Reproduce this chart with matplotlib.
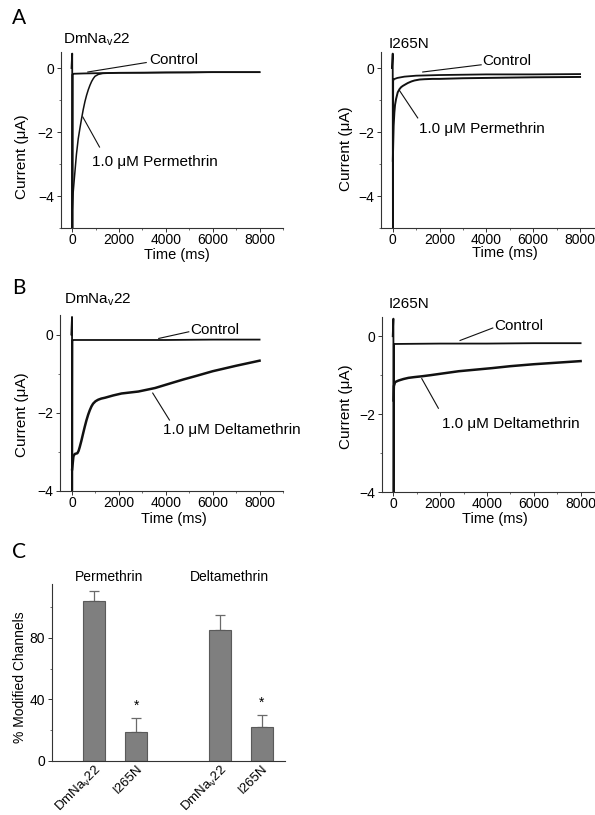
import matplotlib
matplotlib.use("Agg")
import matplotlib.pyplot as plt
from matplotlib.ticker import MultipleLocator

plt.rcParams['font.family'] = ['Liberation Sans', 'DejaVu Sans']
plt.rcParams['mathtext.fontset'] = 'custom'
plt.rcParams['mathtext.rm'] = 'Liberation Sans'
plt.rcParams['mathtext.it'] = 'Liberation Sans:italic'

# ---------------- data ----------------
# Panel A, DmNav22
a1_ctrl_t = [-30, 0, 8, 20, 60, 500, 2000, 4000, 6000, 8000]
a1_ctrl_v = [0, 0.45, -5.0, -0.2, -0.18, -0.17, -0.15, -0.14, -0.13, -0.13]
a1_drug_t = [5, 40, 80, 114, 180, 257, 330, 400, 470, 543, 614, 686, 757, 829, 900,
             971, 1114, 1300, 1600, 2000, 3000, 4000, 5000, 6000, 7000, 8000]
a1_drug_v = [-4.4, -3.9, -3.55, -3.26, -2.7, -2.21, -1.88, -1.58, -1.3, -1.05, -0.85,
             -0.68, -0.54, -0.42, -0.33, -0.26, -0.2, -0.17, -0.16, -0.15, -0.15,
             -0.14, -0.14, -0.13, -0.13, -0.13]
# Panel A, I265N
a2_ctrl_t = [-30, 0, 8, 20, 50, 200, 500, 1000, 2000, 4000, 6000, 8000]
a2_ctrl_v = [0, 0.45, -5.0, -0.4, -0.35, -0.31, -0.27, -0.24, -0.22, -0.2, -0.2, -0.19]
a2_drug_t = [5, 20, 40, 71, 100, 143, 214, 290, 357, 430, 500, 643, 800, 929, 1150,
             1357, 1700, 2000, 3000, 4000, 5000, 6000, 7000, 8000]
a2_drug_v = [-2.9, -2.4, -1.8, -1.39, -1.15, -0.97, -0.76, -0.66, -0.6, -0.56, -0.53,
             -0.47, -0.42, -0.39, -0.36, -0.35, -0.34, -0.34, -0.32, -0.31, -0.3,
             -0.29, -0.285, -0.28]
# Panel B, DmNav22
b1_ctrl_t = [-30, 0, 8, 20, 60, 2000, 4000, 6000, 8000]
b1_ctrl_v = [0, 0.45, -4.0, -0.15, -0.14, -0.14, -0.14, -0.13, -0.13]
b1_drug_t = [5, 30, 60, 114, 170, 229, 280, 330, 400, 471, 540, 614, 690, 757, 830,
             900, 1000, 1114, 1250, 1400, 1757, 2114, 2829, 3543, 4257, 4757, 5300,
             6000, 7000, 8000]
b1_drug_v = [-3.45, -3.3, -3.12, -3.06, -3.05, -3.04, -2.98, -2.88, -2.72, -2.54,
             -2.37, -2.2, -2.05, -1.94, -1.84, -1.77, -1.71, -1.67, -1.64, -1.62,
             -1.56, -1.51, -1.46, -1.37, -1.24, -1.15, -1.06, -0.94, -0.8, -0.67]
# Panel B, I265N
b2_ctrl_t = [-30, 0, 8, 20, 60, 2000, 4000, 6000, 8000]
b2_ctrl_v = [0, 0.45, -4.0, -0.2, -0.2, -0.19, -0.19, -0.18, -0.18]
b2_drug_t = [5, 20, 71, 140, 214, 320, 429, 643, 900, 1214, 1600, 2071, 2786, 3500,
             4214, 5000, 6000, 7000, 8000]
b2_drug_v = [-1.65, -1.28, -1.18, -1.16, -1.14, -1.12, -1.1, -1.07, -1.05, -1.03,
             -1.0, -0.96, -0.9, -0.86, -0.82, -0.77, -0.72, -0.68, -0.64]

# Panel C
bar_labels = ['DmNa$_\\mathrm{v}$22', 'I265N', 'DmNa$_\\mathrm{v}$22', 'I265N']
bar_values = [104, 19, 85, 22]
bar_errors = [6.5, 9, 10, 8]
bar_sig = ['', '*', '', '*']
group_labels = ['Permethrin', 'Deltamethrin']

# ---------------- layout helpers ----------------
W, H = 595, 815
fig = plt.figure(figsize=(W / 100, H / 100), dpi=100)


def rect(l, r, t, b):
    return [l / W, 1 - b / H, (r - l) / W, (b - t) / H]


def fx(px):
    return px / W


def fy(py):
    return 1 - py / H


def style(ax, lsize=10):
    for s in ['top', 'right']:
        ax.spines[s].set_visible(False)
    for s in ['left', 'bottom']:
        ax.spines[s].set_linewidth(0.8)
        ax.spines[s].set_color('#333333')
    ax.tick_params(which='major', direction='out', length=2.6, width=0.7,
                   labelsize=lsize, colors='#333333', labelcolor='black')
    ax.tick_params(which='minor', direction='out', length=1.6, width=0.6,
                   colors='#555555')
    ax.tick_params(axis='x', which='major', pad=1.2)
    ax.tick_params(axis='y', which='major', pad=2.2)


def trace_axes(r, ylim, ctrl_t, ctrl_v, drug_t, drug_v, ann, dlw):
    ax = fig.add_axes(r)
    ax.plot(ctrl_t, ctrl_v, color='#111111', lw=1.3, solid_joinstyle='round')
    ax.plot(drug_t, drug_v, color='#111111', lw=dlw, solid_joinstyle='round')
    ax.set_xlim(-500, 9000)
    ax.set_ylim(*ylim)
    ax.xaxis.set_major_locator(MultipleLocator(2000))
    ax.xaxis.set_minor_locator(MultipleLocator(1000))
    ax.yaxis.set_major_locator(MultipleLocator(2))
    ax.yaxis.set_minor_locator(MultipleLocator(1))
    ax.set_yticks([0, -2, -4])
    style(ax)
    for (txt, tx, ty, x0, y0, x1, y1) in ann:
        ax.plot([x0, x1], [y0, y1], color='#111111', lw=0.8, clip_on=False)
        ax.text(tx, ty, txt, fontsize=11, ha='left', va='center')
    return ax


ax1 = trace_axes(rect(60.5, 283, 52, 228), (-5, 0.5), a1_ctrl_t, a1_ctrl_v,
                 a1_drug_t, a1_drug_v,
                 [('Control', 3300, 0.24, 3160, 0.17, 666, -0.125),
                  ('1.0 \u03bcM Permethrin', 850, -2.94, 1166, -2.47, 453, -1.53)], 1.1)
ax2 = trace_axes(rect(381, 603.5, 52, 228), (-5, 0.5), a2_ctrl_t, a2_ctrl_v,
                 a2_drug_t, a2_drug_v,
                 [('Control', 3820, 0.21, 3776, 0.1, 1282, -0.125),
                  ('1.0 \u03bcM Permethrin', 1110, -1.9, 1068, -1.56, 286, -0.7)], 1.4)
ax3 = trace_axes(rect(60.3, 283, 315, 490.7), (-4, 0.5), b1_ctrl_t, b1_ctrl_v,
                 b1_drug_t, b1_drug_v,
                 [('Control', 5050, 0.11, 4981, 0.07, 3700, -0.1),
                  ('1.0 \u03bcM Deltamethrin', 3870, -2.44, 4156, -2.19, 3443, -1.5)], 1.8)
ax4 = trace_axes(rect(381.7, 604, 316.7, 492), (-4, 0.5), b2_ctrl_t, b2_ctrl_v,
                 b2_drug_t, b2_drug_v,
                 [('Control', 4310, 0.27, 4246, 0.21, 2849, -0.11),
                  ('1.0 \u03bcM Deltamethrin', 2067, -2.25, 1922, -1.85, 1213, -1.09)], 1.8)

# titles
fig.text(fx(63), fy(39.5), 'DmNa$_\\mathrm{v}$22', fontsize=11, ha='left', va='center')
fig.text(fx(389), fy(43.5), 'I265N', fontsize=11, ha='left', va='center')
fig.text(fx(64), fy(300), 'DmNa$_\\mathrm{v}$22', fontsize=11, ha='left', va='center')
fig.text(fx(389), fy(303.5), 'I265N', fontsize=11, ha='left', va='center')

# axis labels
for (x, y) in [(22, 157), (346, 149), (22, 415), (346, 407)]:
    fig.text(fx(x), fy(y), 'Current (\u03bcA)', fontsize=11, rotation=90,
             ha='center', va='center')
for (x, y) in [(177, 254.5), (505, 253), (174, 519), (495, 519)]:
    fig.text(fx(x), fy(y), 'Time (ms)', fontsize=10.5, ha='center', va='center')

# panel letters
for (lab, x, y) in [('A', 12, 18), ('B', 12, 287.5), ('C', 12, 551.5)]:
    fig.text(fx(x), fy(y), lab, fontsize=15, family=['Lato', 'DejaVu Sans'],
             ha='left', va='center')

# ---------------- Panel C ----------------
axc = fig.add_axes(rect(51.7, 285, 584, 760.7))
xpos = [0, 1, 3, 4]
axc.bar(xpos, bar_values, width=0.52, color='#7f7f7f', edgecolor='#5a5a5a', lw=0.8,
        zorder=2)
axc.errorbar(xpos, bar_values, yerr=[[0] * 4, bar_errors], fmt='none',
             ecolor='#6a6a6a', elinewidth=0.9, capsize=3.5, capthick=0.9, zorder=1)
for x, v, e, s in zip(xpos, bar_values, bar_errors, bar_sig):
    if s:
        axc.text(x, v + e + 3, s, ha='center', va='bottom', fontsize=10)
axc.set_xlim(-1.01, 4.55)
axc.set_ylim(0, 115)
axc.yaxis.set_major_locator(MultipleLocator(40))
axc.yaxis.set_minor_locator(MultipleLocator(20))
style(axc, lsize=10)
axc.set_xticks(xpos)
axc.set_xticklabels(bar_labels, rotation=45, ha='right', va='top',
                    rotation_mode='anchor', fontsize=9.5)
axc.tick_params(axis='x', length=0, pad=1.5)
fig.text(fx(108.8), fy(576.7), group_labels[0], fontsize=10, ha='center', va='center')
fig.text(fx(229), fy(576.7), group_labels[1], fontsize=10, ha='center', va='center')
fig.text(fx(20), fy(676.7), '% Modified Channels', fontsize=10, rotation=90,
         ha='center', va='center')

fig.savefig('out.png', dpi=100)
